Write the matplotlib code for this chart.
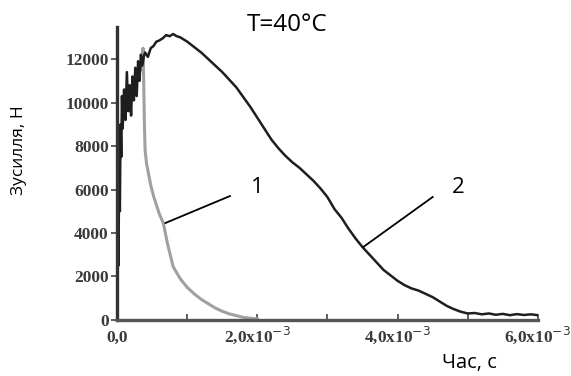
import matplotlib
matplotlib.use('Agg')
import matplotlib.pyplot as plt
from matplotlib.ticker import FixedLocator

# curve 2 (black): time in ms, force in N
t2 = [0.00, 0.01, 0.02, 0.03, 0.04, 0.05, 0.06, 0.07, 0.08, 0.10, 0.12, 0.14,
      0.16, 0.18, 0.20, 0.22, 0.24, 0.26, 0.28, 0.30, 0.32, 0.34, 0.36, 0.38,
      0.40, 0.44, 0.48, 0.52, 0.56, 0.60, 0.65, 0.70, 0.75, 0.80, 0.85, 0.90,
      0.95, 1.0, 1.1, 1.2, 1.3, 1.4, 1.5, 1.6, 1.7, 1.8, 1.9, 2.0, 2.1, 2.2,
      2.3, 2.4, 2.5, 2.6, 2.7, 2.8, 2.9, 3.0, 3.1, 3.2, 3.3, 3.4, 3.5, 3.6,
      3.7, 3.8, 3.9, 4.0, 4.1, 4.2, 4.3, 4.4, 4.5, 4.6, 4.7, 4.8, 4.9, 5.0,
      5.1, 5.2, 5.3, 5.4, 5.5, 5.6, 5.7, 5.8, 5.9, 6.0]
f2 = [0, 4000, 2500, 7000, 5000, 9000, 7500, 10300, 8800, 10600, 9200, 11400,
      9600, 10800, 9400, 11200, 10100, 11600, 10300, 11900, 11000, 12200, 11700, 12100,
      12300, 12100, 12500, 12600, 12800, 12850, 12950, 13100, 13050, 13150, 13050, 13000,
      12900, 12800, 12550, 12300, 12000, 11700, 11400, 11050, 10700, 10250, 9800, 9300, 8800, 8300,
      7900, 7550, 7250, 7000, 6700, 6400, 6050, 5650, 5100, 4700, 4200, 3750, 3350, 3000,
      2650, 2300, 2050, 1800, 1600, 1450, 1350, 1200, 1050, 850, 650, 500, 380, 300,
      320, 260, 300, 240, 280, 220, 270, 230, 260, 220]

# curve 1 (grey)
t1 = [0.36, 0.37, 0.38, 0.39, 0.40, 0.42, 0.45, 0.48, 0.52, 0.56, 0.60, 0.66,
      0.72, 0.80, 0.90, 1.0, 1.1, 1.2, 1.3, 1.4, 1.5, 1.6, 1.7, 1.8, 1.9, 2.0]
f1 = [11500, 12500, 11000, 9000, 7800, 7200, 6700, 6200, 5700, 5300, 4900, 4450,
      3500, 2450, 1900, 1500, 1200, 950, 750, 550, 400, 280, 200, 120, 80, 50]

xticks = [0.0, 2.0, 4.0, 6.0]
xtick_labels = ['0,0', '2,0x10$^{-3}$', '4,0x10$^{-3}$', '6,0x10$^{-3}$']
yticks = [0, 2000, 4000, 6000, 8000, 10000, 12000]

fig = plt.figure(figsize=(5.71, 3.76), dpi=100)
ax = fig.add_axes([0.205, 0.149, 0.737, 0.779])

ax.plot(t1, f1, color='#a0a0a0', lw=2.2)
ax.plot(t2, f2, color='#1e1e1e', lw=1.8)

ax.set_xlim(0, 6.0)
ax.set_ylim(0, 13470)
ax.spines['top'].set_visible(False)
ax.spines['right'].set_visible(False)
ax.spines['left'].set_linewidth(2.4)
ax.spines['bottom'].set_linewidth(2.4)
ax.spines['left'].set_color('#333333')
ax.spines['bottom'].set_color('#555555')

ax.set_xticks(xticks)
ax.set_xticklabels(xtick_labels)
ax.xaxis.set_minor_locator(FixedLocator([1.0, 3.0, 5.0]))
ax.set_yticks(yticks)
ax.set_yticklabels([str(v) for v in yticks])
ax.tick_params(axis='x', which='both', direction='in', length=4, width=1.2,
               colors='#444444', pad=16)
ax.tick_params(axis='y', direction='out', length=4, width=1.2, colors='#444444', pad=2)
for lab in ax.get_xticklabels() + ax.get_yticklabels():
    lab.set_fontfamily('Liberation Serif')
    lab.set_fontweight('bold')
    lab.set_fontsize(12.5)
    lab.set_color('#3a3a3a')
for lab in ax.get_xticklabels():
    lab.set_verticalalignment('baseline')

# leader lines and curve numbers
ax.plot([1.61, 0.69], [5700, 4460], color='black', lw=1.3)
ax.plot([4.5, 3.51], [5655, 3356], color='black', lw=1.3)
ax.text(2.0, 6100, '1', fontsize=16, family='Open Sans', ha='center', va='center')
ax.text(4.86, 6100, '2', fontsize=16, family='Open Sans', ha='center', va='center')

fig.text(0.503, 0.934, 'T=40°C', fontsize=17.5, family='Open Sans', ha='center', va='center')
fig.text(0.034, 0.601, 'Зусилля, Н', fontsize=12.5, family='Open Sans', rotation=90,
         ha='center', va='center')
fig.text(0.823, 0.035, 'Час, с', fontsize=14.5, family='Open Sans', ha='center', va='center')

fig.savefig('out.png', dpi=100)
